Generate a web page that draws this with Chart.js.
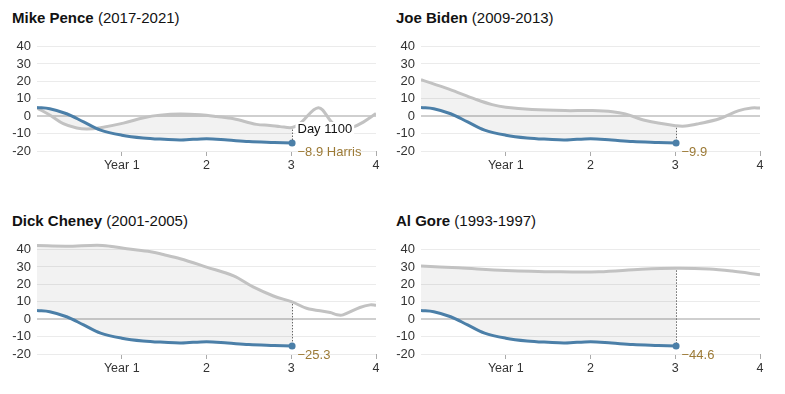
<!DOCTYPE html>
<html>
<head>
<meta charset="utf-8">
<script src="https://cdn.jsdelivr.net/npm/chart.js@4.4.1/dist/chart.umd.min.js"></script>
<style>
  body { margin: 0; background: #fff; font-family: "Liberation Sans", Arial, sans-serif; }
  #wrap { position: relative; width: 785px; height: 394px; }
  .title { position: absolute; font-size: 15px; color: #121212; white-space: nowrap; line-height: 18px; }
  .title b { font-weight: 700; }
  canvas { position: absolute; }
</style>
</head>
<body>
<div id="wrap">
  <div class="title" style="left:12px;top:9px"><b>Mike Pence</b> (2017-2021)</div>
  <div class="title" style="left:396px;top:9px"><b>Joe Biden</b> (2009-2013)</div>
  <div class="title" style="left:12px;top:212px"><b>Dick Cheney</b> (2001-2005)</div>
  <div class="title" style="left:396px;top:212px"><b>Al Gore</b> (1993-1997)</div>
  <canvas id="c0" width="388" height="151" style="left:0;top:24px"></canvas>
  <canvas id="c1" width="388" height="151" style="left:384px;top:24px"></canvas>
  <canvas id="c2" width="388" height="151" style="left:0;top:227px"></canvas>
  <canvas id="c3" width="388" height="151" style="left:384px;top:227px"></canvas>
</div>
<script>
// net approval, x = years into the term
const harrisYears  = [0, 0.15, 0.35, 0.55, 0.75, 1.0, 1.25, 1.5, 1.7, 2.0, 2.25, 2.5, 2.8, 3.01];
const harrisValues = [5.0, 4.3, 1.4, -3.3, -8.0, -10.9, -12.5, -13.3, -13.7, -12.9, -13.7, -14.6, -15.1, -15.4];

const penceYears  = [0, 0.16, 0.31, 0.47, 0.59, 0.75, 1.02, 1.26, 1.45, 1.69, 1.93, 2.12, 2.32, 2.59, 2.75, 2.87, 3.01, 3.1, 3.32, 3.48, 3.58, 3.72, 3.85, 4.0];
const penceValues = [4.7, 0.4, -4.3, -6.8, -7.4, -6.6, -4.0, -0.9, 0.6, 1.3, 0.8, -0.2, -1.5, -4.7, -5.3, -6.0, -6.5, -4.3, 4.9, -3.6, -7.5, -6.4, -3.4, 1.5];

const bidenYears  = [0, 0.33, 0.64, 0.84, 1.0, 1.31, 1.7, 2.02, 2.26, 2.41, 2.65, 3.01, 3.12, 3.28, 3.52, 3.75, 3.9, 4.0];
const bidenValues = [21.0, 15.5, 9.8, 6.6, 5.1, 3.8, 3.2, 3.2, 2.6, 1.3, -2.5, -5.5, -5.7, -4.3, -1.5, 3.2, 4.7, 4.7];

const cheneyYears  = [0, 0.35, 0.71, 0.86, 1.06, 1.34, 1.49, 1.69, 2.0, 2.32, 2.55, 2.79, 3.01, 3.18, 3.46, 3.54, 3.61, 3.81, 3.93, 4.0];
const cheneyValues = [42.3, 41.9, 42.5, 41.9, 40.4, 38.7, 37.1, 34.7, 29.9, 24.8, 18.5, 13.3, 9.9, 6.3, 3.8, 2.5, 2.5, 6.7, 8.2, 8.0];

const goreYears  = [0, 0.44, 1.0, 1.63, 2.1, 2.6, 3.01, 3.4, 3.67, 4.0];
const goreValues = [30.5, 29.5, 28.0, 27.2, 27.2, 28.6, 29.2, 28.8, 27.6, 25.5];

const gapLabels = ["\u22128.9 Harris", "\u22129.9", "\u221225.3", "\u221244.6"];
const dayLabel = "Day 1100";
const dayMark = 3.01;

const xTicks = [1, 2, 3, 4];
const xTickLabels = ["Year 1", "2", "3", "4"];
const yTicks = [-20, -10, 0, 10, 20, 30, 40];

const FONT = '"Liberation Sans", Arial, sans-serif';
const BLUE = "#4b7fa8";
const GRAY = "#c2c2c2";

const panels = [
  { id: "c0", years: penceYears, values: penceValues, gap: gapLabels[0], day: dayLabel },
  { id: "c1", years: bidenYears, values: bidenValues, gap: gapLabels[1] },
  { id: "c2", years: cheneyYears, values: cheneyValues, gap: gapLabels[2] },
  { id: "c3", years: goreYears, values: goreValues, gap: gapLabels[3] }
];

function toPoints(xs, ys) {
  return xs.map((x, i) => ({ x: x, y: ys[i] }));
}

// dotted connector at day 1100 plus the gap labels
const dayMarker = {
  id: "dayMarker",
  afterDatasetsDraw(chart, args, opts) {
    const ctx = chart.ctx;
    const sx = chart.scales.x, sy = chart.scales.y;
    const vp = chart.data.datasets[1].data.find(p => p.x === dayMark);
    const hp = chart.data.datasets[2].data.find(p => p.x === dayMark);
    const px = Math.round(sx.getPixelForValue(dayMark)) + 0.5;
    const yTop = sy.getPixelForValue(vp.y);
    const yBot = sy.getPixelForValue(hp.y);
    ctx.save();
    ctx.strokeStyle = "#666";
    ctx.lineWidth = 1;
    ctx.setLineDash([1.5, 1.5]);
    ctx.beginPath();
    ctx.moveTo(px, yTop + 2);
    ctx.lineTo(px, yBot - 3);
    ctx.stroke();
    ctx.setLineDash([]);
    ctx.font = "13px " + FONT;
    ctx.textBaseline = "middle";
    if (opts.day) {
      const w = ctx.measureText(opts.day).width;
      ctx.fillStyle = "#fff";
      ctx.fillRect(px + 3, yBot - 21, w + 4, 14);
      ctx.fillStyle = "#121212";
      ctx.fillText(opts.day, px + 5, yBot - 14);
    }
    ctx.fillStyle = "#9c7a36";
    ctx.fillText(opts.gap, px + 5, yBot + 9);
    ctx.restore();
  }
};

panels.forEach(p => {
  const vpPoints = toPoints(p.years, p.values);
  const harrisPoints = toPoints(harrisYears, harrisValues);
  const last = harrisPoints.length - 1;
  new Chart(document.getElementById(p.id), {
    type: "line",
    data: {
      datasets: [
        {
          // shaded gap up to day 1100
          data: vpPoints.filter(pt => pt.x <= dayMark),
          borderWidth: 0,
          pointRadius: 0,
          fill: { target: 2 },
          backgroundColor: "rgba(0,0,0,0.05)",
          tension: 0.35,
          order: 2
        },
        {
          data: vpPoints,
          borderColor: GRAY,
          borderWidth: 3,
          pointRadius: 0,
          fill: false,
          tension: 0.35,
          order: 1
        },
        {
          data: harrisPoints,
          borderColor: BLUE,
          backgroundColor: BLUE,
          borderWidth: 3,
          pointRadius: harrisPoints.map((_, i) => i === last ? 3.5 : 0),
          pointBorderWidth: 0,
          fill: false,
          tension: 0.35,
          order: 0
        }
      ]
    },
    options: {
      responsive: false,
      animation: false,
      events: [],
      layout: { padding: { top: 6, right: 12, left: 0, bottom: 0 } },
      plugins: {
        legend: { display: false },
        tooltip: { enabled: false },
        dayMarker: { gap: p.gap, day: p.day }
      },
      scales: {
        x: {
          type: "linear",
          min: 0,
          max: 4,
          afterBuildTicks: s => { s.ticks = xTicks.map(v => ({ value: v })); },
          afterFit: s => { s.height = 24; },
          border: { display: false },
          grid: { drawOnChartArea: false, drawTicks: true, tickLength: 5, tickColor: "#aaa" },
          ticks: {
            padding: 2,
            color: "#333",
            font: { family: FONT, size: 12.5 },
            maxRotation: 0,
            callback: v => xTickLabels[xTicks.indexOf(v)]
          }
        },
        y: {
          min: -20,
          max: 45,
          afterBuildTicks: s => { s.ticks = yTicks.map(v => ({ value: v })); },
          afterFit: s => { s.width = 37; },
          border: { display: false },
          grid: {
            drawTicks: false,
            color: c => c.tick.value === 0 ? "#cfcfcf" : "#ebebeb",
            lineWidth: c => c.tick.value === 0 ? 2 : 1
          },
          ticks: {
            padding: 6,
            color: "#333",
            font: { family: FONT, size: 13 }
          }
        }
      }
    },
    plugins: [dayMarker]
  });
});
</script>
</body>
</html>
